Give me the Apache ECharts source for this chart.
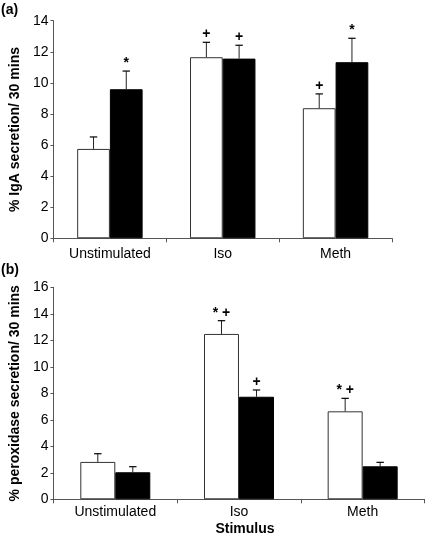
<!DOCTYPE html>
<html>
<head>
<meta charset="utf-8">
<script src="https://cdn.jsdelivr.net/npm/echarts@6/dist/echarts.min.js"></script>
<style>html,body{margin:0;padding:0;background:#fff}#c{width:426px;height:538px}</style>
</head>
<body>
<div id="c"></div>
<script>
const categories = ['Unstimulated', 'Iso', 'Meth'];

const igaWhite = [5.75, 11.65, 8.37];
const igaWhiteErr = [0.77, 0.96, 0.92];
const igaWhiteMarks = ['', '+', '+'];
const igaBlack = [9.59, 11.56, 11.33];
const igaBlackErr = [1.17, 0.86, 1.54];
const igaBlackMarks = ['*', '+', '*'];

const peroxWhite = [2.82, 12.48, 6.64];
const peroxWhiteErr = [0.62, 1.00, 0.98];
const peroxWhiteMarks = ['', '* +', '* +'];
const peroxBlack = [2.04, 7.74, 2.49];
const peroxBlackErr = [0.42, 0.51, 0.30];
const peroxBlackMarks = ['', '+', ''];

const yTicksTop = [0, 14, 2];
const yTicksBottom = [0, 16, 2];

const FONT = '"Liberation Sans", Arial, Helvetica, sans-serif';
const AXIS_COLOR = '#555';

function errData(vals, errs, marks) {
  return vals.map((v, i) => [i, v, v + errs[i], marks[i]]);
}

function errSeries(gridIdx, vals, errs, marks, side, frac) {
  return {
    type: 'custom',
    xAxisIndex: gridIdx,
    yAxisIndex: gridIdx,
    z: 5,
    encode: { x: 0, y: 2 },
    data: errData(vals, errs, marks),
    renderItem: function (params, api) {
      const cat = api.value(0);
      const c0 = api.coord([cat, 0]);
      const bw = api.size([1, 0])[0] * frac;
      const cx = c0[0] + side * bw / 2;
      const yTop = api.coord([cat, api.value(1)])[1];
      const yErr = api.coord([cat, api.value(2)])[1];
      const mark = api.value(3);
      const children = [
        { type: 'line', shape: { x1: cx, y1: yTop, x2: cx, y2: yErr }, style: { stroke: '#222', lineWidth: 1 } },
        { type: 'line', shape: { x1: cx - 3.7, y1: yErr, x2: cx + 3.7, y2: yErr }, style: { stroke: '#000', lineWidth: 1.2 } }
      ];
      if (mark) {
        children.push({
          type: 'text',
          style: { text: mark, x: cx, y: yErr - 1, align: 'center', verticalAlign: 'bottom',
                   font: 'bold 14px ' + FONT, fill: '#000' }
        });
      }
      return { type: 'group', children: children };
    }
  };
}

function yAxisDef(gridIdx, ticks, name, gap) {
  return {
    type: 'value', gridIndex: gridIdx, min: ticks[0], max: ticks[1], interval: ticks[2],
    name: name, nameLocation: 'middle', nameGap: gap,
    nameTextStyle: { fontFamily: FONT, fontSize: 14, fontWeight: 'bold', color: '#000' },
    axisLine: { show: true, lineStyle: { color: AXIS_COLOR, width: 1 } },
    axisTick: { show: true, inside: false, length: 3, lineStyle: { color: AXIS_COLOR } },
    axisLabel: { fontFamily: FONT, fontSize: 14, color: '#000', margin: 5 },
    splitLine: { show: false }
  };
}

function xAxisDef(gridIdx, margin) {
  return {
    type: 'category', gridIndex: gridIdx, data: categories,
    axisLine: { show: true, lineStyle: { color: AXIS_COLOR, width: 1 } },
    axisTick: { show: true, inside: false, length: 4, alignWithLabel: false, lineStyle: { color: AXIS_COLOR } },
    axisLabel: { fontFamily: FONT, fontSize: 14, color: '#000', margin: margin, interval: 0 }
  };
}

const fracTop = 0.29, fracBottom = 0.283;

const option = {
  animation: false,
  backgroundColor: '#fff',
  grid: [
    { left: 47, right: 34, top: 20.7, bottom: 299.7 },
    { left: 48.3, right: 1.5, top: 287.3, bottom: 38.7 }
  ],
  xAxis: [xAxisDef(0, 9), xAxisDef(1, 6)],
  yAxis: [
    yAxisDef(0, yTicksTop, '% IgA secretion/ 30 mins', 23),
    yAxisDef(1, yTicksBottom, '% peroxidase secretion/ 30 mins', 27)
  ],
  graphic: [
    { type: 'text', left: 1, top: 3, style: { text: '(a)', font: 'bold 14px ' + FONT, fill: '#000' } },
    { type: 'text', left: 1, top: 263, style: { text: '(b)', font: 'bold 14px ' + FONT, fill: '#000' } },
    { type: 'text', x: 245, y: 529, style: { text: 'Stimulus', font: 'bold 14px ' + FONT, fill: '#000', align: 'center', verticalAlign: 'middle' } }
  ],
  series: [
    { type: 'bar', xAxisIndex: 0, yAxisIndex: 0, data: igaWhite, barWidth: (fracTop * 100) + '%', barGap: '0%',
      itemStyle: { color: '#fff', borderColor: '#333', borderWidth: 1 } },
    { type: 'bar', xAxisIndex: 0, yAxisIndex: 0, data: igaBlack, barWidth: (fracTop * 100) + '%', barGap: '0%',
      itemStyle: { color: '#000', borderColor: '#000', borderWidth: 1 } },
    { type: 'bar', xAxisIndex: 1, yAxisIndex: 1, data: peroxWhite, barWidth: (fracBottom * 100) + '%', barGap: '0%',
      itemStyle: { color: '#fff', borderColor: '#333', borderWidth: 1 } },
    { type: 'bar', xAxisIndex: 1, yAxisIndex: 1, data: peroxBlack, barWidth: (fracBottom * 100) + '%', barGap: '0%',
      itemStyle: { color: '#000', borderColor: '#000', borderWidth: 1 } },
    errSeries(0, igaWhite, igaWhiteErr, igaWhiteMarks, -1, fracTop),
    errSeries(0, igaBlack, igaBlackErr, igaBlackMarks, 1, fracTop),
    errSeries(1, peroxWhite, peroxWhiteErr, peroxWhiteMarks, -1, fracBottom),
    errSeries(1, peroxBlack, peroxBlackErr, peroxBlackMarks, 1, fracBottom)
  ]
};

const chart = echarts.init(document.getElementById('c'), null, { renderer: 'canvas' });
chart.setOption(option);
</script>
</body>
</html>
